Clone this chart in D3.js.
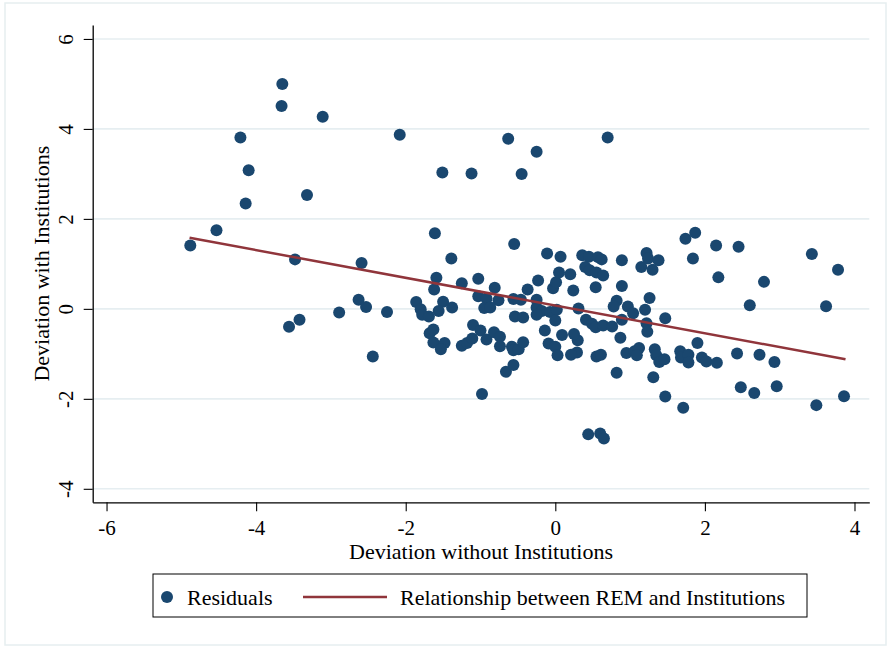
<!DOCTYPE html>
<html>
<head>
<meta charset="utf-8">
<script src="https://cdn.jsdelivr.net/npm/d3@7"></script>
<style>
  body { margin: 0; background: #fff; }
  text { font-family: "Liberation Serif", "Times New Roman", serif; fill: #000; }
</style>
</head>
<body>
<div id="chart"></div>
<script>
// residuals: deviation without institutions (x) vs deviation with institutions (y)
var residualX = [
  -4.88, -4.53, -4.21, -4.10, -4.14, -3.65, -3.66, -3.11, -3.32, -3.48,
  -3.56, -3.42, -2.59, -2.63, -2.53, -2.89, -2.25, -2.44, -2.08, -1.51,
  -1.12, -0.63, -0.25, -0.45, -1.61, -0.55, -0.11, 0.07, -1.39, -1.59,
  -1.62, -1.25, -1.03, -0.81, -1.03, -0.92, -0.76, -0.56, -0.46, -1.86,
  -1.50, -1.80, -1.78, -1.69, -1.56, -1.38, -0.95, -0.87, -0.25, -0.25,
  -0.18, -0.07, 0.02, -0.54, -0.43, -0.25, 0.00, -0.23, -0.37, -0.03,
  0.01, 0.05, 0.20, 0.24, 0.31, 0.36, 0.45, 0.57, 0.62, 0.40,
  0.46, 0.55, 0.64, 0.54, 0.89, 0.89, 1.22, 1.24, 1.38, 1.15,
  1.30, 1.26, 0.82, 0.78, 0.97, 1.04, 1.20, 1.47, 0.41, 0.49,
  0.54, 0.64, 0.76, 0.89, 1.22, 1.23, 0.87, 0.30, 0.25, 0.29,
  0.21, 0.55, 0.61, 0.82, 0.95, 1.06, 1.12, 1.09, 1.33, 1.35,
  1.39, 1.46, 1.31, 1.47, 1.71, 1.67, 1.68, 1.78, 1.78, 1.90,
  1.96, 2.02, 2.16, 2.43, 2.73, 2.93, 2.48, 2.66, 2.96, 3.49,
  3.86, 0.44, 0.60, 0.65, 0.70, 1.74, 1.87, 2.15, 2.45, 3.43,
  3.78, 1.84, 2.18, 2.79, 2.60, 3.62, -1.68, -1.63, -1.63, -1.48,
  -1.53, -1.25, -1.18, -1.11, -1.10, -1.00, -0.92, -0.82, -0.74, -0.74,
  -0.58, -0.56, -0.49, -0.43, -0.66, -0.56, -0.98, -0.14, -0.09, 0.00,
  0.03, 0.09
];
var residualY = [
  1.41, 1.75, 3.81, 3.08, 2.34, 5.00, 4.51, 4.27, 2.53, 1.10,
  -0.40, -0.24, 1.02, 0.20, 0.04, -0.08, -0.07, -1.06, 3.87, 3.03,
  3.01, 3.78, 3.49, 3.00, 1.68, 1.44, 1.23, 1.16, 1.12, 0.69,
  0.43, 0.57, 0.67, 0.47, 0.28, 0.23, 0.19, 0.22, 0.20, 0.15,
  0.16, -0.01, -0.13, -0.17, -0.05, 0.03, 0.02, 0.03, 0.20, 0.03,
  -0.05, -0.07, -0.02, -0.17, -0.19, -0.13, -0.26, 0.63, 0.43, 0.46,
  0.59, 0.81, 0.77, 0.41, 0.01, 1.19, 1.16, 1.15, 1.10, 0.93,
  0.86, 0.81, 0.74, 0.48, 1.08, 0.51, 1.24, 1.12, 1.08, 0.93,
  0.87, 0.24, 0.18, 0.05, 0.05, -0.10, -0.02, -0.21, -0.24, -0.33,
  -0.41, -0.37, -0.39, -0.24, -0.32, -0.51, -0.64, -0.70, -0.56, -0.97,
  -1.02, -1.06, -1.02, -1.42, -0.98, -0.94, -0.87, -1.03, -0.90, -1.03,
  -1.18, -1.12, -1.52, -1.95, -2.20, -0.94, -1.08, -1.02, -1.19, -0.76,
  -1.08, -1.17, -1.20, -0.99, -1.02, -1.18, -1.74, -1.87, -1.72, -2.14,
  -1.94, -2.79, -2.77, -2.88, 3.81, 1.56, 1.69, 1.41, 1.38, 1.22,
  0.87, 1.12, 0.70, 0.60, 0.08, 0.06, -0.54, -0.46, -0.75, -0.76,
  -0.90, -0.82, -0.76, -0.66, -0.36, -0.48, -0.68, -0.52, -0.62, -0.83,
  -0.84, -0.92, -0.90, -0.74, -1.40, -1.25, -1.89, -0.48, -0.77, -0.84,
  -1.03, -0.58
];

// fitted line end points
var fitX = [-4.89, 3.88];
var fitY = [1.58, -1.12];

var xTicks = [-6, -4, -2, 0, 2, 4];
var yTicks = [-4, -2, 0, 2, 4, 6];

var legendLabels = ["Residuals", "Relationship between REM and Institutions"];

var W = 889, H = 647;
var plot = { left: 92.7, right: 869.3, top: 25, bottom: 502.3 };

var x = d3.scaleLinear().domain([-6.185, 4.198]).range([plot.left, plot.right]);
var y = d3.scaleLinear().domain([-4.3, 6.31]).range([plot.bottom, plot.top]);

var navy = "#1a476f", maroon = "#90353b";

var svg = d3.select("#chart").append("svg")
  .attr("width", W)
  .attr("height", H);

// outer frame
svg.append("rect")
  .attr("x", 5).attr("y", 3)
  .attr("width", 881).attr("height", 642)
  .attr("fill", "#fff")
  .attr("stroke", "#e6eef0")
  .attr("stroke-width", 1.5);

// horizontal grid
svg.append("g").selectAll("line")
  .data(yTicks)
  .enter().append("line")
  .attr("x1", plot.left).attr("x2", plot.right)
  .attr("y1", function(d) { return y(d); })
  .attr("y2", function(d) { return y(d); })
  .attr("stroke", "#e6eef1")
  .attr("stroke-width", 1.6);

// points
svg.append("g").selectAll("circle")
  .data(residualX)
  .enter().append("circle")
  .attr("cx", function(d) { return x(d); })
  .attr("cy", function(d, i) { return y(residualY[i]); })
  .attr("r", 6)
  .attr("fill", navy);

// fitted line on top
var line = d3.line()
  .x(function(d) { return x(d); })
  .y(function(d, i) { return y(fitY[i]); });

svg.append("path")
  .datum(fitX)
  .attr("d", line)
  .attr("fill", "none")
  .attr("stroke", maroon)
  .attr("stroke-width", 2.5);

// y axis
var yAxis = svg.append("g")
  .attr("transform", "translate(" + plot.left + ",0)")
  .call(d3.axisLeft(y).tickValues(yTicks).tickSize(9).tickSizeOuter(0)
    .tickFormat(function(d) { return String(d); }));
yAxis.selectAll(".tick text")
  .attr("transform", "rotate(-90)")
  .attr("x", 0).attr("y", -19.5).attr("dy", 0)
  .attr("text-anchor", "middle")
  .style("font-size", "21px");

// x axis
var xAxis = svg.append("g")
  .attr("transform", "translate(0," + plot.bottom + ")")
  .call(d3.axisBottom(x).tickValues(xTicks).tickSize(9).tickSizeOuter(0)
    .tickFormat(function(d) { return String(d); }));
xAxis.selectAll(".tick text")
  .attr("y", 33).attr("dy", 0)
  .style("font-size", "21px");

svg.selectAll(".domain").attr("stroke", "#000").attr("stroke-width", 1.3);
svg.selectAll(".tick line").attr("stroke", "#000").attr("stroke-width", 1.1);
svg.selectAll(".tick text").attr("font-family", null);

// axis titles
svg.append("text")
  .attr("x", (plot.left + plot.right) / 2)
  .attr("y", 559)
  .attr("text-anchor", "middle")
  .style("font-size", "22px")
  .text("Deviation without Institutions");

svg.append("text")
  .attr("transform", "translate(49," + ((plot.top + plot.bottom) / 2) + ") rotate(-90)")
  .attr("text-anchor", "middle")
  .style("font-size", "22px")
  .text("Deviation with Institutions");

// legend
var lg = svg.append("g");
lg.append("rect")
  .attr("x", 153).attr("y", 574)
  .attr("width", 654).attr("height", 43)
  .attr("fill", "#fff")
  .attr("stroke", "#000")
  .attr("stroke-width", 1);
lg.append("circle")
  .attr("cx", 167).attr("cy", 597).attr("r", 6)
  .attr("fill", navy);
lg.append("text")
  .attr("x", 187).attr("y", 605)
  .style("font-size", "22px")
  .text(legendLabels[0]);
lg.append("line")
  .attr("x1", 303).attr("x2", 387)
  .attr("y1", 597).attr("y2", 597)
  .attr("stroke", maroon)
  .attr("stroke-width", 2.5);
lg.append("text")
  .attr("x", 400).attr("y", 605)
  .style("font-size", "22px")
  .text(legendLabels[1]);
</script>
</body>
</html>
